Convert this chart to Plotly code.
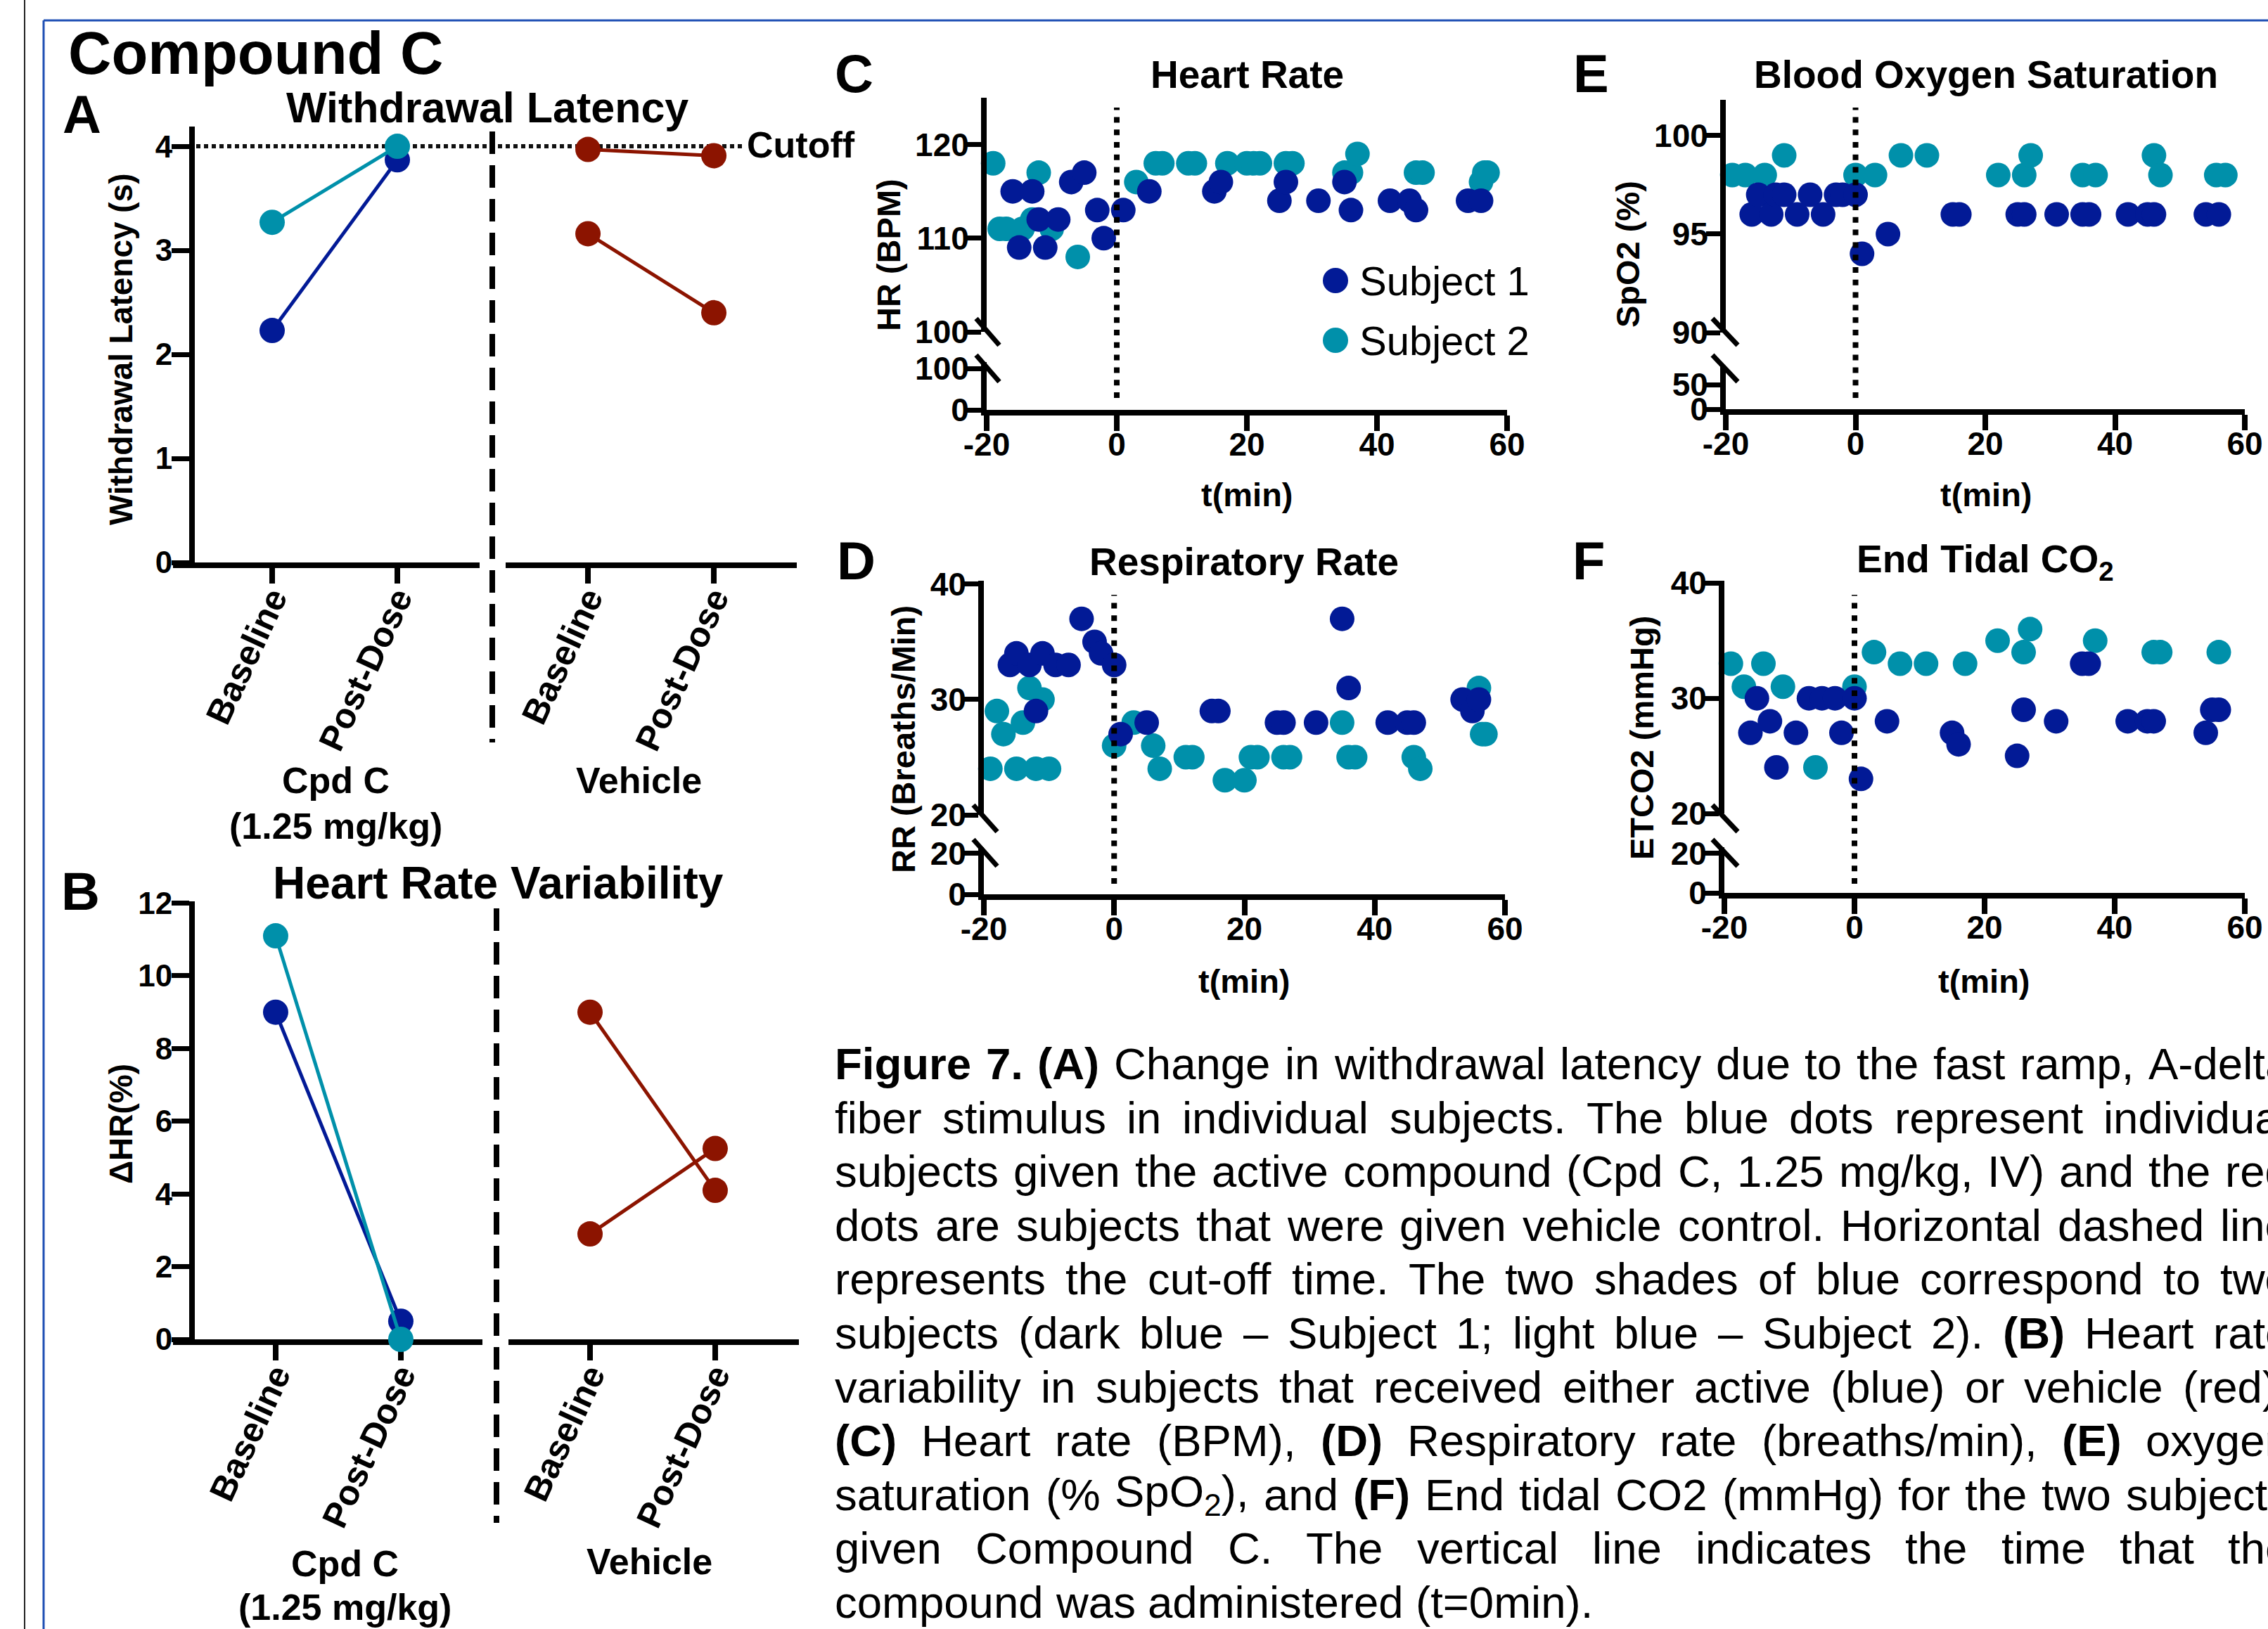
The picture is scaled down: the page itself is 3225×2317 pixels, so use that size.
import plotly.graph_objects as go

FIG_W, FIG_H = 3225, 2317
FONT = "Liberation Sans, Arial, Helvetica, sans-serif"
DARK = "#021A96"
TEAL = "#0090AA"
RED = "#8C1400"

# ---------------- data ----------------
conditions = ["Baseline", "Post-Dose"]

# (A) Withdrawal latency (s)
wl_cpd_subject1 = [2.23, 3.87]
wl_cpd_subject2 = [3.27, 4.00]
wl_vehicle_a = [3.97, 3.91]
wl_vehicle_b = [3.16, 2.40]
wl_cutoff = 4.0

# (B) Heart rate variability (dHR %)
hrv_cpd_subject1 = [9.0, 0.5]
hrv_cpd_subject2 = [11.1, 0.0]
hrv_vehicle_a = [9.0, 4.1]
hrv_vehicle_b = [2.9, 5.25]

# (C) Heart rate (BPM)
hr_s1_t = [-16, -13, -15, -11, -12, -9, -7, -5, -3, -2, 1, 5, 15, 16, 25, 26, 31, 35, 36, 42, 45, 46, 54, 56]
hr_s1 = [115, 115, 109, 109, 112, 112, 116, 117, 113, 110, 113, 115, 115, 116, 114, 116, 114, 116, 113, 114, 114, 113, 114, 114]
hr_s2_t = [-19, -18, -17, -14.5, -13, -12, -10, -6, 3, 6, 7, 11, 12, 17, 20, 21, 22, 26, 27, 35, 36, 37, 46, 47, 56, 56.5, 57]
hr_s2 = [118, 111, 111, 111, 112, 117, 111, 108, 116, 118, 118, 118, 118, 118, 118, 118, 118, 118, 118, 117, 117, 119, 117, 117, 116, 117, 117]

# (D) Respiratory rate (breaths/min)
rr_s1_t = [-16, -15, -13, -11, -9, -7, -12, -5, -3, -2, 0, 1, 5, 15, 16, 25, 26, 31, 35, 36, 42, 45, 46, 53.5, 55, 56]
rr_s1 = [33, 34, 33, 34, 33, 33, 29, 37, 35, 34, 33, 27, 28, 29, 29, 28, 28, 28, 37, 31, 28, 28, 28, 30, 29, 30]
rr_s2_t = [-19, -18, -17, -15, -14, -13, -12, -11, -10, 0, 3, 6, 7, 11, 12, 17, 20, 21, 22, 26, 27, 35, 36, 37, 46, 47, 56, 56.5, 57]
rr_s2 = [24, 29, 27, 24, 28, 31, 24, 30, 24, 26, 28, 26, 24, 25, 25, 23, 23, 25, 25, 25, 25, 28, 25, 25, 25, 24, 31, 27, 27]

# (E) SpO2 (%)
spo2_s1_t = [-16, -15, -13, -12.3, -11, -9, -7, -5, -3, -2, 0, 1, 5, 15, 16, 25, 26, 31, 35, 36, 42, 45, 46, 54, 56]
spo2_s1 = [96, 97, 96, 97, 97, 96, 97, 96, 97, 97, 97, 94, 95, 96, 96, 96, 96, 96, 96, 96, 96, 96, 96, 96, 96]
spo2_s2_t = [-19, -17, -14, -11, 0, 3, 7, 11, 22, 26, 27, 35, 37, 46, 47, 55.6, 57]
spo2_s2 = [98, 98, 98, 99, 98, 98, 99, 99, 98, 98, 99, 98, 98, 99, 98, 98, 98]

# (F) ETCO2 (mmHg)
etco2_s1_t = [-16, -15, -13, -12, -9, -7, -5, -3, -2, 0, 1, 5, 15, 16, 25, 26, 31, 35, 36, 42, 45, 46, 54, 55, 56]
etco2_s1 = [27, 30, 28, 24, 27, 30, 30, 30, 27, 30, 23, 28, 27, 26, 25, 29, 28, 33, 33, 28, 28, 28, 27, 29, 29]
etco2_s2_t = [-19, -17, -14, -11, -6, 0, 3, 7, 11, 17, 22, 26, 27, 37, 46, 47, 56]
etco2_s2 = [33, 31, 33, 31, 24, 31, 34, 33, 33, 33, 35, 34, 36, 35, 34, 34, 34]

time_ticks = [-20, 0, 20, 40, 60]
time_ticktext = ["-20", "0", "20", "40", "60"]

caption_lines = [
    "Figure 7. (A) Change in withdrawal latency due to the fast ramp, A-delta",
    "fiber stimulus in individual subjects. The blue dots represent individual",
    "subjects given the active compound (Cpd C, 1.25 mg/kg, IV) and the red",
    "dots are subjects that were given vehicle control. Horizontal dashed line",
    "represents the cut-off time. The two shades of blue correspond to two",
    "subjects (dark blue \u2013 Subject 1; light blue \u2013 Subject 2). (B) Heart rate",
    "variability in subjects that received either active (blue) or vehicle (red).",
    "(C) Heart rate (BPM), (D) Respiratory rate (breaths/min), (E) oxygen",
    "saturation (% SpO<sub>2</sub>), and (F) End tidal CO2 (mmHg) for the two subjects",
    "given Compound C. The vertical line indicates the time that the",
    "compound was administered (t=0min).",
]
caption_bold = {"Figure", "7.", "(A)", "(B)", "(C)", "(D)", "(E)", "(F)"}


# ---------------- helpers ----------------
def px_x(p):
    return p / FIG_W


def px_y(p):
    return 1 - p / FIG_H


annotations = []
shapes = []


def add_text(text, x, y, size, bold=False, xanchor="center", yanchor="middle", angle=0):
    annotations.append(dict(
        text=f"<b>{text}</b>" if bold else text,
        x=px_x(x), y=px_y(y), xref="paper", yref="paper", showarrow=False,
        xanchor=xanchor, yanchor=yanchor, textangle=angle, borderpad=0, borderwidth=0,
        font=dict(family=FONT, size=size, color="black")))


def add_line(x0, y0, x1, y1, width=7, color="black", dash=None, layer="above"):
    ln = dict(color=color, width=width)
    if dash:
        ln["dash"] = dash
    shapes.append(dict(type="line", xref="paper", yref="paper",
                       x0=px_x(x0), y0=px_y(y0), x1=px_x(x1), y1=px_y(y1),
                       line=ln, layer=layer))


tick_bold = lambda s: dict(family=FONT, size=s, color="black", weight="bold")

base_axis = dict(showgrid=False, zeroline=False, showline=True, linecolor="black",
                 automargin=False, ticks="outside", tickcolor="black", fixedrange=True)

layout = dict(
    width=FIG_W, height=FIG_H, template="none",
    margin=dict(l=0, r=0, t=0, b=0, pad=0),
    paper_bgcolor="white", plot_bgcolor="rgba(0,0,0,0)",
    showlegend=False, font=dict(family=FONT, color="black"),
)

# ---- Panel A axes ----
layout["yaxis"] = dict(base_axis, domain=[px_y(800), px_y(180)], range=[0, 4.19], anchor="free",
                       position=px_x(273), linewidth=8, tickwidth=7, ticklen=25, ticklabelstandoff=-10,
                       tickvals=[0, 1, 2, 3, 4], tickfont=tick_bold(44), layer="below traces")
cat_axis = dict(base_axis, type="category", categoryorder="array", categoryarray=conditions,
                linewidth=8, tickwidth=8, ticklen=22, tickangle=-65, tickfont=tick_bold(50),
                ticklabelstandoff=-28, layer="below traces")
layout["xaxis"] = dict(cat_axis, domain=[px_x(246), px_x(682)], anchor="y", range=[-0.792, 1.657])
layout["xaxis2"] = dict(cat_axis, domain=[px_x(719), px_x(1133)], anchor="y", range=[-0.654, 1.659])

# ---- Panel B axes ----
layout["yaxis2"] = dict(base_axis, domain=[px_y(1905), px_y(1282)], range=[0, 12.05], anchor="free",
                        position=px_x(273), linewidth=8, tickwidth=7, ticklen=25, ticklabelstandoff=-10,
                        tickvals=[0, 2, 4, 6, 8, 10, 12], tickfont=tick_bold(44), layer="below traces")
layout["xaxis3"] = dict(cat_axis, domain=[px_x(246), px_x(686)], anchor="y2", range=[-0.820, 1.652])
layout["xaxis4"] = dict(cat_axis, domain=[px_x(723), px_x(1136)], anchor="y2", range=[-0.652, 1.669])

# ---- Panels C-F (broken y axes) ----
time_axis = dict(base_axis, range=[-20, 60], tickvals=time_ticks, ticktext=time_ticktext,
                 linewidth=8, tickwidth=8, ticklen=22, tickfont=tick_bold(46), ticklabelstandoff=-20)
val_axis = dict(base_axis, linewidth=8, tickwidth=7, ticklen=20, tickfont=tick_bold(46),
                ticklabelstandoff=-12)

panels = [
    dict(xa="xaxis5", ya="yaxis3", yb="yaxis4", x0=1403, x1=2143, base=583,
         up=(472, 139, [100, 125]), upt=[100, 110, 120], low=(515, [0, 115.3]), lowt=[0, 100]),
    dict(xa="xaxis6", ya="yaxis5", yb="yaxis6", x0=1399, x1=2140, base=1272,
         up=(1159, 826, [20, 40.3]), upt=[20, 30, 40], low=(1205, [0, 23.1]), lowt=[0, 20]),
    dict(xa="xaxis7", ya="yaxis7", yb="yaxis8", x0=2454, x1=3192, base=582,
         up=(473, 142, [90, 101.82]), upt=[90, 95, 100], low=(520, [0, 88.6]), lowt=[0, 50]),
    dict(xa="xaxis8", ya="yaxis9", yb="yaxis10", x0=2452, x1=3192, base=1270,
         up=(1157, 826, [20, 40.2]), upt=[20, 30, 40], low=(1205, [0, 23.2]), lowt=[0, 20]),
]
for p in panels:
    xr = p["xa"].replace("axis", "")
    yu = p["ya"].replace("axis", "")
    yl = p["yb"].replace("axis", "")
    p["xr"], p["yu"], p["yl"] = xr, yu, yl
    layout[p["xa"]] = dict(time_axis, domain=[px_x(p["x0"]), px_x(p["x1"])], anchor=yl)
    ub, ut, urng = p["up"]
    layout[p["ya"]] = dict(val_axis, domain=[px_y(ub), px_y(ut)], range=urng, tickvals=p["upt"], anchor=xr)
    lt, lrng = p["low"]
    layout[p["yb"]] = dict(val_axis, domain=[px_y(p["base"]), px_y(lt)], range=lrng, tickvals=p["lowt"], anchor=xr)

fig = go.Figure()


def line_pair(xref, yref, y, color):
    fig.add_trace(go.Scatter(x=conditions, y=y, xaxis=xref, yaxis=yref, mode="lines+markers",
                             line=dict(color=color, width=5), marker=dict(size=36, color=color),
                             cliponaxis=False, hoverinfo="skip"))


line_pair("x", "y", wl_cpd_subject1, DARK)
line_pair("x", "y", wl_cpd_subject2, TEAL)
line_pair("x2", "y", wl_vehicle_a, RED)
line_pair("x2", "y", wl_vehicle_b, RED)
line_pair("x3", "y2", hrv_cpd_subject1, DARK)
line_pair("x3", "y2", hrv_cpd_subject2, TEAL)
line_pair("x4", "y2", hrv_vehicle_a, RED)
line_pair("x4", "y2", hrv_vehicle_b, RED)

series = [
    (hr_s2_t, hr_s2, hr_s1_t, hr_s1),
    (rr_s2_t, rr_s2, rr_s1_t, rr_s1),
    (spo2_s2_t, spo2_s2, spo2_s1_t, spo2_s1),
    (etco2_s2_t, etco2_s2, etco2_s1_t, etco2_s1),
]
for p, (t2, v2, t1, v1) in zip(panels, series):
    for t, v, c, nm in ((t2, v2, TEAL, "Subject 2"), (t1, v1, DARK, "Subject 1")):
        fig.add_trace(go.Scatter(x=t, y=v, xaxis=p["xr"], yaxis=p["yu"], mode="markers", name=nm,
                                 marker=dict(size=35, color=c, line=dict(width=0)),
                                 cliponaxis=False, hoverinfo="skip"))
    fig.add_trace(go.Scatter(x=[], y=[], xaxis=p["xr"], yaxis=p["yl"], mode="markers",
                             hoverinfo="skip"))

# ---------------- reference lines ----------------
shapes.append(dict(type="line", xref="paper", yref="y", x0=px_x(246), x1=px_x(1056),
                   y0=wl_cutoff, y1=wl_cutoff, layer="below",
                   line=dict(color="#111111", width=6, dash="6px,5px")))
add_line(700, 187, 700, 1056, width=8, dash="32px,16px")
add_line(706, 1292, 706, 2166, width=8, dash="32px,16px")
dotted_spans = [(153, 566), (846, 1257), (153, 566), (846, 1257)]
for p, (ya, yb) in zip(panels, dotted_spans):
    shapes.append(dict(type="line", xref=p["xr"], yref="paper", x0=0, x1=0,
                       y0=px_y(yb), y1=px_y(ya), layer="above",
                       line=dict(color="black", width=8, dash="8px,9.8px")))
for (bx0, bx1, y_a, y_b) in [(1388, 1421, 453, 505), (1384, 1418, 1145, 1194),
                             (2435, 2471, 453, 505), (2435, 2471, 1145, 1194)]:
    add_line(bx0, y_a, bx1, y_a + 38, width=7)
    add_line(bx0, y_b, bx1, y_b + 38, width=7)

# frame
add_line(35, 0, 35, FIG_H, width=2, color="#222222")
add_line(62, 29, 62, FIG_H + 5, width=3, color="#1E4FB4")
add_line(62, 29, FIG_W + 5, 29, width=3, color="#1E4FB4")

# legend (panel C)
for (cy, col, lab) in [(399, DARK, "Subject 1"), (484, TEAL, "Subject 2")]:
    shapes.append(dict(type="circle", xref="paper", yref="paper",
                       x0=px_x(1899 - 18), x1=px_x(1899 + 18), y0=px_y(cy + 18), y1=px_y(cy - 18),
                       fillcolor=col, line=dict(width=0), layer="above"))
    add_text(lab, 1933, cy, 58, xanchor="left")

# ---------------- texts ----------------
add_text("Compound C", 97, 76, 85, bold=True, xanchor="left")
add_text("A", 117, 162, 76, bold=True)
add_text("Withdrawal Latency", 693, 153, 61, bold=True)
add_text("Withdrawal Latency (s)", 172, 497, 46, bold=True, angle=-90)
add_text("Cutoff", 1062, 206, 52, bold=True, xanchor="left")
add_text("Cpd C", 477, 1110, 52, bold=True)
add_text("(1.25 mg/kg)", 477, 1175, 52, bold=True)
add_text("Vehicle", 909, 1110, 52, bold=True)

add_text("B", 114, 1267, 76, bold=True)
add_text("Heart Rate Variability", 708, 1256, 64, bold=True)
add_text("\u0394HR(%)", 172, 1599, 46, bold=True, angle=-90)
add_text("Cpd C", 490, 2224, 52, bold=True)
add_text("(1.25 mg/kg)", 490, 2286, 52, bold=True)
add_text("Vehicle", 923, 2221, 52, bold=True)

add_text("C", 1214, 104, 76, bold=True)
add_text("Heart Rate", 1773, 106, 55, bold=True)
add_text("HR (BPM)", 1264, 363, 47, bold=True, angle=-90)
add_text("t(min)", 1773, 703, 47, bold=True)

add_text("D", 1217, 797, 76, bold=True)
add_text("Respiratory Rate", 1769, 799, 55, bold=True)
add_text("RR (Breaths/Min)", 1284, 1052, 47, bold=True, angle=-90)
add_text("t(min)", 1769, 1395, 47, bold=True)

add_text("E", 2262, 104, 76, bold=True)
add_text("Blood Oxygen Saturation", 2824, 106, 55, bold=True)
add_text("SpO2 (%)", 2314, 362, 47, bold=True, angle=-90)
add_text("t(min)", 2824, 703, 47, bold=True)

add_text("F", 2259, 797, 76, bold=True)
add_text("End Tidal CO<sub>2</sub>", 2823, 799, 55, bold=True)
add_text("ETCO2 (mmHg)", 2334, 1050, 47, bold=True, angle=-90)
add_text("t(min)", 2821, 1395, 47, bold=True)

# ---------------- caption (justified, word by word) ----------------
_reg = {" ": 278, "(": 333, ")": 333, ",": 278, "-": 333, ".": 278, "/": 278, ":": 278, ";": 278,
        "=": 584, "%": 889, "\u2013": 556}
for ch in "0123456789":
    _reg[ch] = 556
_reg.update(dict(zip("ABCDEFGHIJKLMNOPQRSTUVWXYZ",
                     [667, 667, 722, 722, 667, 611, 778, 722, 278, 500, 667, 556, 833, 722, 778, 667, 778,
                      722, 667, 611, 722, 667, 944, 667, 667, 611])))
_reg.update(dict(zip("abcdefghijklmnopqrstuvwxyz",
                     [556, 556, 500, 556, 556, 278, 556, 556, 222, 222, 500, 222, 833, 556, 556, 556, 556,
                      333, 500, 278, 556, 500, 722, 500, 500, 500])))
_bold = dict(_reg)
_bold.update({"A": 722, "B": 722, "F": 611, "g": 611, "u": 611, "r": 389, "i": 278, "e": 556})

CAP_SIZE = 63.5
CAP_LEFT, CAP_RIGHT = 1187, 3256
CAP_Y0, CAP_DY = 1513, 76.6


def word_width(w, bold):
    tbl = _bold if bold else _reg
    total = 0.0
    scale = 1.0
    i = 0
    while i < len(w):
        if w.startswith("<sub>", i):
            scale = 0.7
            i += 5
            continue
        if w.startswith("</sub>", i):
            scale = 1.0
            i += 6
            continue
        total += tbl.get(w[i], 556) * scale
        i += 1
    return total / 1000.0 * CAP_SIZE


for li, line in enumerate(caption_lines):
    words = line.split(" ")
    bolds = [w in caption_bold for w in words]
    widths = [word_width(w, b) for w, b in zip(words, bolds)]
    if li < len(caption_lines) - 1:
        gap = (CAP_RIGHT - CAP_LEFT - sum(widths)) / (len(words) - 1)
    else:
        gap = 0.278 * CAP_SIZE
    xpos = CAP_LEFT
    ypos = CAP_Y0 + li * CAP_DY
    for w, b, wd in zip(words, bolds, widths):
        add_text(w, xpos, ypos, CAP_SIZE, bold=b, xanchor="left")
        xpos += wd + gap

layout["annotations"] = annotations
layout["shapes"] = shapes
fig.update_layout(**layout)

fig.write_html("out.html", config={"displayModeBar": False, "staticPlot": True},
               post_script="document.body.style.margin='0px';")
